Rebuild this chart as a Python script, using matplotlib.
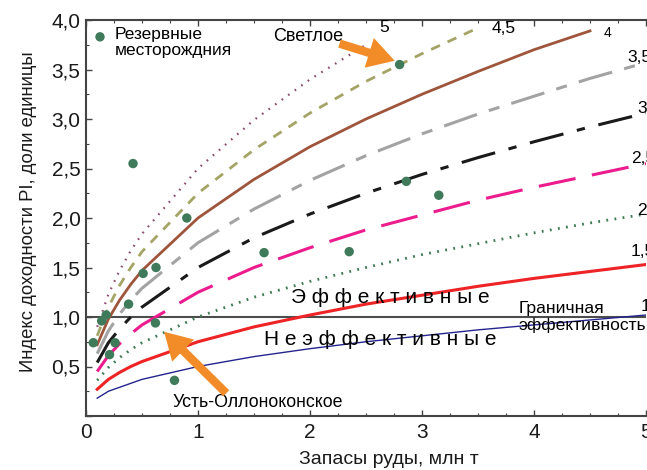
import numpy as np
import matplotlib
matplotlib.use("Agg")
import matplotlib.pyplot as plt
from matplotlib.ticker import MultipleLocator, FuncFormatter

plt.rcParams['font.family'] = ['Liberation Sans', 'DejaVu Sans']
plt.rcParams['lines.scale_dashes'] = False

# reserves grid (mln t) where the curves were read
x_full = [0.1, 0.2, 0.3, 0.4, 0.5, 1.0, 1.5, 2.0, 2.5, 3.0, 3.5, 4.0, 4.5, 5.0]

# PI curves, labelled by price level
pi_1 = [0.18, 0.25, 0.29, 0.33, 0.37, 0.50, 0.60, 0.68, 0.75, 0.81, 0.87, 0.92, 0.97, 1.02]
pi_15 = [0.27, 0.37, 0.44, 0.50, 0.55, 0.75, 0.90, 1.02, 1.13, 1.22, 1.31, 1.39, 1.46, 1.53]
pi_2 = [0.36, 0.49, 0.59, 0.67, 0.74, 1.00, 1.20, 1.36, 1.50, 1.63, 1.74, 1.85, 1.95, 2.04]
pi_25 = [0.45, 0.61, 0.73, 0.83, 0.92, 1.25, 1.50, 1.70, 1.88, 2.03, 2.18, 2.31, 2.43, 2.55]
pi_3 = [0.54, 0.74, 0.88, 1.00, 1.10, 1.50, 1.80, 2.04, 2.25, 2.44, 2.61, 2.77, 2.92, 3.06]
pi_35 = [0.63, 0.86, 1.03, 1.17, 1.29, 1.75, 2.09, 2.38, 2.63, 2.85, 3.05, 3.23, 3.41, 3.57]
pi_4 = [0.72, 0.98, 1.17, 1.33, 1.47, 2.00, 2.39, 2.72, 3.00, 3.25, 3.48, 3.70, 3.89]
pi_45 = [0.81, 1.10, 1.32, 1.50, 1.66, 2.25, 2.69, 3.06, 3.38, 3.66, 3.92]
pi_5 = [0.90, 1.23, 1.47, 1.67, 1.84, 2.50, 2.99, 3.40, 3.75]

# reserve deposits
dep_x = [0.065, 0.14, 0.18, 0.21, 0.26, 0.38, 0.42, 0.51, 0.625, 0.62, 0.79, 0.90,
         1.59, 2.35, 2.80, 2.86, 3.15]
dep_y = [0.74, 0.96, 1.02, 0.62, 0.74, 1.13, 2.55, 1.44, 1.50, 0.94, 0.36, 2.00,
         1.65, 1.66, 3.55, 2.37, 2.23]

curve_labels = ['1', '1,5', '2', '2,5', '3', '3,5', '4', '4,5', '5']

fig = plt.figure(figsize=(6.47, 4.70), dpi=100)
ax = fig.add_axes([86 / 647, 54 / 470, 560 / 647, 396 / 470])

ax.plot(x_full, pi_1, color='#24248f', lw=1.0)
ax.plot(x_full, pi_15, color='#ee2326', lw=2.2)
ax.plot(x_full, pi_2, color='#3d7a55', lw=2.0, linestyle=(0, (1.3, 4.6)))
ax.plot(x_full, pi_25, color='#ec1c8e', lw=2.2, linestyle=(0, (27, 12)))
ax.plot(x_full, pi_3, color='#1a1a1a', lw=2.2, linestyle=(0, (25, 10, 6, 10)))
ax.plot(x_full, pi_35, color='#a3a3a3', lw=2.2, linestyle=(0, (25, 9, 8, 9)))
ax.plot(x_full[:len(pi_4)], pi_4, color='#9e553b', lw=2.0)
ax.plot(x_full[:len(pi_45)], pi_45, color='#a4a466', lw=2.0, linestyle=(0, (7, 6)))
ax.plot(x_full[:len(pi_5)], pi_5, color='#8b4a6e', lw=1.6, linestyle=(0, (1.2, 4.6)))

ax.axhline(1.0, color='#4d4d4d', lw=1.5, zorder=1)

ax.scatter(dep_x, dep_y, s=46, color='#3f7a5a', zorder=5, edgecolors='none')

# legend-like marker
ax.scatter([0.125], [3.83], s=46, color='#3f7a5a', edgecolors='none', clip_on=False)
ax.text(0.26, 3.93, 'Резервные\nместорождния', fontsize=12.5, va='top', ha='left',
        linespacing=1.05)

# curve labels at right ends
lab_pos = [(4.95, 1.11), (4.86, 1.66), (4.92, 2.08), (4.87, 2.60), (4.92, 3.11),
           (4.83, 3.62), (4.62, 3.87), (3.62, 3.91), (2.62, 3.92)]
for (lx, ly), t in zip(lab_pos, curve_labels):
    ax.text(lx, ly, t, fontsize=12.5 if t != '4' else 10, ha='left', va='center', clip_on=False)

ax.text(2.72, 1.20, 'Э ф ф е к т и в н ы е', fontsize=15, ha='center', va='center')
ax.text(2.63, 0.77, 'Н е э ф ф е к т и в н ы е', fontsize=15, ha='center', va='center')
ax.text(3.86, 1.0, 'Граничная\nэффективность', fontsize=12.6, ha='left', va='center',
        linespacing=1.05)

ax.text(1.98, 3.83, 'Светлое', fontsize=13, ha='center', va='center')
ax.text(1.53, 0.14, 'Усть-Оллоноконское', fontsize=12.8, ha='center', va='center')

arrow_style = 'simple,head_length=1.2,head_width=1.4,tail_width=0.38'
ax.annotate('', xy=(2.78, 3.58), xytext=(2.24, 3.77),
            arrowprops=dict(arrowstyle=arrow_style, color='#f28c28', mutation_scale=16, lw=0))
ax.annotate('', xy=(0.68, 0.87), xytext=(1.27, 0.21),
            arrowprops=dict(arrowstyle=arrow_style, color='#f28c28', mutation_scale=16, lw=0))

ax.set_xlim(0, 5)
ax.set_ylim(0, 4)
ax.xaxis.set_major_locator(MultipleLocator(1))
ax.xaxis.set_minor_locator(MultipleLocator(0.25))
ax.yaxis.set_major_locator(MultipleLocator(0.5))
ax.yaxis.set_minor_locator(MultipleLocator(0.25))
ax.yaxis.set_major_formatter(FuncFormatter(lambda v, p: '' if v == 0 else f'{v:.1f}'.replace('.', ',')))
ax.xaxis.set_major_formatter(FuncFormatter(lambda v, p: f'{v:.0f}'))

ax.tick_params(which='both', direction='in', top=True, right=False, colors='#444444',
               labelcolor='#1a1a1a', labelsize=15)
ax.tick_params(which='major', length=4, width=1)
ax.tick_params(which='minor', length=2.5, width=0.8)
ax.tick_params(axis='x', pad=5)
ax.tick_params(axis='y', pad=4)
for s in ['left', 'bottom', 'top']:
    ax.spines[s].set_color('#444444')
    ax.spines[s].set_linewidth(1.5)
ax.spines['right'].set_visible(False)

ax.set_xlabel('Запасы руды, млн т', fontsize=14, color='#1a1a1a')
ax.set_ylabel('Индекс доходности PI, доли единицы', fontsize=13.3, color='#1a1a1a')
ax.xaxis.set_label_coords(0.54, -0.088)
ax.yaxis.set_label_coords(-0.088, 0.515)

fig.savefig('out.png', dpi=100)
